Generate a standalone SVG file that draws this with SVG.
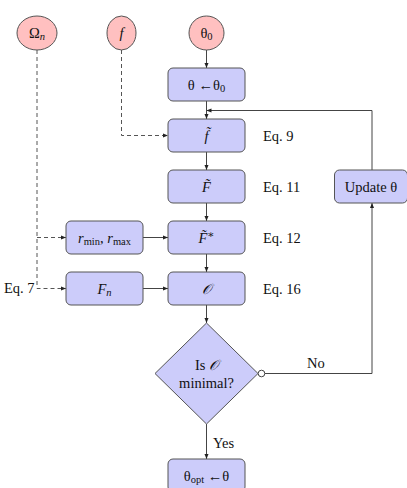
<svg xmlns="http://www.w3.org/2000/svg" width="407" height="488" viewBox="0 0 407 488">
<defs>
<marker id="ah" viewBox="0 0 10 10" refX="10" refY="5" markerWidth="5" markerHeight="5" orient="auto" markerUnits="userSpaceOnUse">
<path d="M0,1 L10,5 L0,9 Z" fill="#222"/>
</marker>
</defs>
<style>
.inp{fill:#ffc0c0;stroke:#555;stroke-width:1}
.box{fill:#ccccfa;stroke:#555;stroke-width:1}
.t{font-family:"Liberation Serif","DejaVu Serif",serif;font-size:14.5px;fill:#111;text-anchor:middle}
.l{font-family:"Liberation Serif","DejaVu Serif",serif;font-size:14.5px;fill:#111}
.i{font-style:italic}
.s{font-size:10.5px}
.c{fill:none;stroke:#444;stroke-width:1}
.d{fill:none;stroke:#555;stroke-width:1;stroke-dasharray:4,3}
</style>
<rect width="407" height="488" fill="#fff"/>
<g id="connectors">
<path class="c" d="M206.5,50 V68" marker-end="url(#ah)"/>
<path class="c" d="M206.5,101 V119" marker-end="url(#ah)"/>
<path class="c" d="M206.5,152 V170" marker-end="url(#ah)"/>
<path class="c" d="M206.5,203 V221" marker-end="url(#ah)"/>
<path class="c" d="M206.5,254 V272" marker-end="url(#ah)"/>
<path class="c" d="M206.5,305 V323" marker-end="url(#ah)"/>
<path class="c" d="M206.5,424 V459" marker-end="url(#ah)"/>
<path class="c" d="M143,237.5 H168" marker-end="url(#ah)"/>
<path class="c" d="M143,288.5 H168" marker-end="url(#ah)"/>
<path class="c" d="M261.5,373.5 H372 V203" marker-end="url(#ah)"/>
<path class="c" d="M372,170 V110.5 H206.5" marker-end="url(#ah)"/>
<path class="d" d="M121.5,50 V135.5 H168" marker-end="url(#ah)"/>
<path class="d" d="M37,50 V288.5 H66" marker-end="url(#ah)"/>
<path class="d" d="M37,237.5 H66" marker-end="url(#ah)"/>
<circle cx="261.5" cy="373.5" r="3.3" fill="#fff" stroke="#444" stroke-width="1"/>
<text class="l" x="307" y="368">No</text>
<text class="l" x="213" y="448">Yes</text>
</g>
<g id="omega">
<ellipse class="inp" cx="37" cy="33" rx="20" ry="17"/>
<text class="t" x="37" y="38">Ω<tspan class="i s" dy="2">n</tspan></text>
</g>
<g id="f">
<ellipse class="inp" cx="121.5" cy="33" rx="14.5" ry="17"/>
<text class="t i" x="121.5" y="38">f</text>
</g>
<g id="theta0">
<ellipse class="inp" cx="206.5" cy="33" rx="17.5" ry="17"/>
<text class="t" x="206.5" y="38">θ<tspan class="s" dy="2">0</tspan></text>
</g>
<g id="init">
<rect class="box" x="168" y="68" width="77" height="33" rx="5"/>
<text class="t" x="206.5" y="89.5">θ ←θ<tspan class="s" dy="2">0</tspan></text>
</g>
<g id="ftilde">
<rect class="box" x="168" y="119" width="77" height="33" rx="5"/>
<text class="t i" x="206.5" y="140.5">f̃</text>
<text class="l" x="263" y="140.5">Eq. 9</text>
</g>
<g id="Ftilde">
<rect class="box" x="168" y="170" width="77" height="33" rx="5"/>
<text class="t i" x="206.5" y="191.5">F̃</text>
<text class="l" x="263" y="191.5">Eq. 11</text>
</g>
<g id="Fstar">
<rect class="box" x="168" y="221" width="77" height="33" rx="5"/>
<text class="t i" x="206.5" y="242.5">F̃<tspan class="s" dy="-5">∗</tspan></text>
<text class="l" x="263" y="242.5">Eq. 12</text>
</g>
<g id="objective">
<rect class="box" x="168" y="272" width="77" height="33" rx="5"/>
<text class="t i" x="206.5" y="293.5">𝒪</text>
<text class="l" x="263" y="293.5">Eq. 16</text>
</g>
<g id="rminmax">
<rect class="box" x="66" y="221" width="77" height="33" rx="5"/>
<text class="t" x="104.5" y="242.5"><tspan class="i">r</tspan><tspan class="s" dy="2">min</tspan><tspan dy="-2">, </tspan><tspan class="i">r</tspan><tspan class="s" dy="2">max</tspan></text>
</g>
<g id="Fn">
<rect class="box" x="66" y="272" width="77" height="33" rx="5"/>
<text class="t" x="104.5" y="293.5"><tspan class="i">F</tspan><tspan class="i s" dy="2">n</tspan></text>
</g>
<g id="eq7">
<text class="l" x="4" y="293">Eq. 7</text>
</g>
<g id="decision">
<polygon class="box" points="206.5,323 258,373.5 206.5,424 155,373.5"/>
<text class="t" x="206.5" y="370">Is <tspan class="i">𝒪</tspan></text>
<text class="t" x="206.5" y="388">minimal?</text>
</g>
<g id="update">
<rect class="box" x="334.5" y="170" width="73" height="33" rx="5"/>
<text class="t" x="371" y="191.5">Update θ</text>
</g>
<g id="final">
<rect class="box" x="168" y="459" width="77" height="33" rx="5"/>
<text class="t" x="206.5" y="480.5">θ<tspan class="s" dy="2">opt</tspan><tspan dy="-2"> ←θ</tspan></text>
</g>
</svg>
